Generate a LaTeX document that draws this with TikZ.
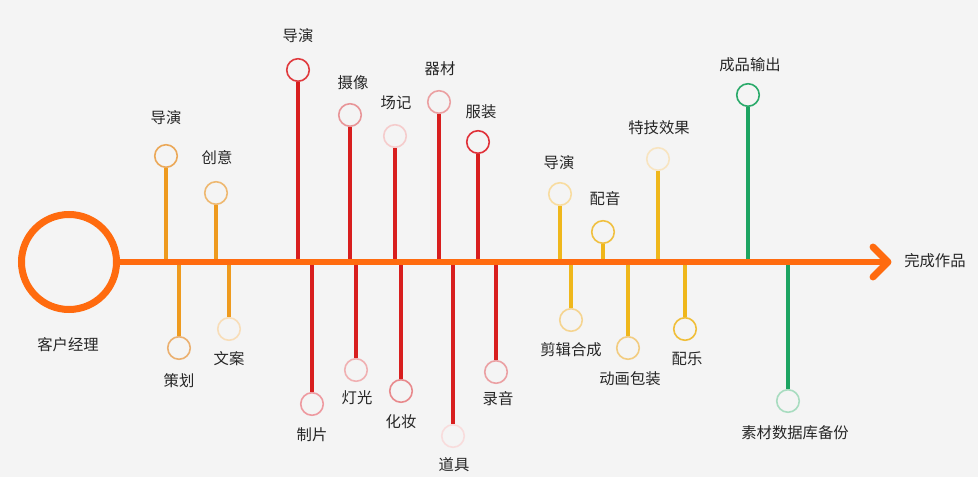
\documentclass[tikz,border=0pt]{standalone}
\usepackage{fontspec}
\setmainfont{Noto Sans CJK SC}
\definecolor{bg}{HTML}{F4F4F4}
\definecolor{mainorange}{HTML}{FF6B0F}
\definecolor{txt}{HTML}{262626}
\definecolor{lnO}{HTML}{EE9A1E}
\definecolor{lnR}{HTML}{D81E1E}
\definecolor{lnY}{HTML}{EFB71B}
\definecolor{lnG}{HTML}{1DA462}
\definecolor{cO1}{HTML}{EBA858}
\definecolor{cO2}{HTML}{EEB870}
\definecolor{cO3}{HTML}{EBB070}
\definecolor{cO4}{HTML}{F8DDB8}
\definecolor{cR1}{HTML}{E03A3E}
\definecolor{cR2}{HTML}{EE9AA0}
\definecolor{cR3}{HTML}{E89598}
\definecolor{cR4}{HTML}{F0B0B2}
\definecolor{cR5}{HTML}{F5CCCC}
\definecolor{cR6}{HTML}{E8898C}
\definecolor{cR7}{HTML}{EBA0A2}
\definecolor{cR8}{HTML}{F8DCDC}
\definecolor{cR9}{HTML}{E03038}
\definecolor{cR10}{HTML}{EBA0A3}
\definecolor{cY1}{HTML}{F8DCA0}
\definecolor{cY2}{HTML}{F5D490}
\definecolor{cY3}{HTML}{F0C040}
\definecolor{cY4}{HTML}{F2CC80}
\definecolor{cY5}{HTML}{F8E4C0}
\definecolor{cY6}{HTML}{F0BE38}
\definecolor{cG1}{HTML}{2AAA6A}
\definecolor{cG2}{HTML}{A8DCC0}
\begin{document}
\begin{tikzpicture}[x=0.75pt,y=-0.75pt,
  leaf/.style={circle, draw=#1, line width=1.2pt, minimum size=16.9pt, inner sep=0pt},
  lbl/.style={text=txt, font=\fontsize{11.5pt}{13pt}\selectfont, inner sep=0pt},
  branch/.style={draw=#1, line width=2.3pt}]
\useasboundingbox[fill=bg] (0,0) rectangle (978,477);
% hub
\node[circle, draw=mainorange, line width=5.25pt, minimum size=71.25pt, inner sep=0pt] (hub) at (69,262) {};
\node[lbl] (hublbl) at (68,345) {客户经理};
\coordinate (tip) at (888,262);
\node[lbl, anchor=west] (endlbl) at (904,261) {完成作品};
% branches: name / x / circle y / label x / label y / text / circle colour / line colour
\foreach \n/\x/\cy/\lx/\ly/\t/\cc/\lc in {
  o1/166/156/166/118/导演/cO1/lnO,
  o2/216/193/217/158/创意/cO2/lnO,
  o3/179/348/179/381/策划/cO3/lnO,
  o4/229/329/229/359/文案/cO4/lnO,
  r1/298/70/298/36/导演/cR1/lnR,
  r2/312/404/312/435/制片/cR2/lnR,
  r3/350/115/353/83/摄像/cR3/lnR,
  r4/356/370/357/398/灯光/cR4/lnR,
  r5/395/136/396/103/场记/cR5/lnR,
  r6/401/391/401/422/化妆/cR6/lnR,
  r7/439/102/440/69/器材/cR7/lnR,
  r8/453/436/454/465/道具/cR8/lnR,
  r9/478/142/481/112/服装/cR9/lnR,
  r10/496/372/498/399/录音/cR10/lnR,
  y1/560/194/559/163/导演/cY1/lnY,
  y2/571/320/571/350/剪辑合成/cY2/lnY,
  y3/603/232/605/199/配音/cY3/lnY,
  y4/628/348/630/379/动画包装/cY4/lnY,
  y5/658/159/659/128/特技效果/cY5/lnY,
  y6/685/329/687/359/配乐/cY6/lnY,
  g1/748/95/750/65/成品输出/cG1/lnG,
  g2/788/401/795/433/素材数据库备份/cG2/lnG} {
  \coordinate (base\n) at (\x,262);
  \node[leaf=\cc] (\n) at (\x,\cy) {};
  \node[lbl] (lbl\n) at (\lx,\ly) {\t};
  \draw[branch=\lc] (base\n) -- (\n);
}
% main axis
\draw[mainorange, line width=4.9pt] (hub) -- (tip);
\draw[mainorange, line width=5.2pt, line cap=round, line join=round]
  ([shift={(-15,-15)}]tip) -- (tip) -- ([shift={(-15,15)}]tip);
\end{tikzpicture}
\end{document}
